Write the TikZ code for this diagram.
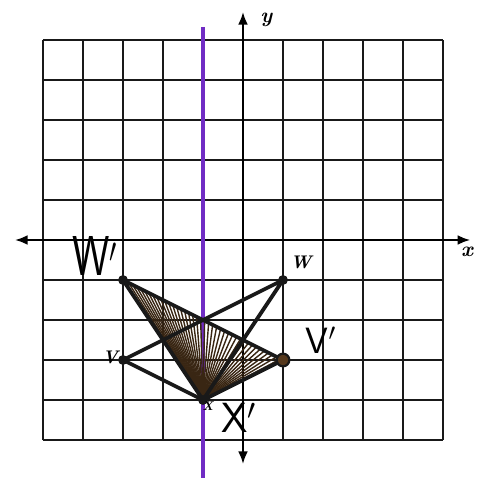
\documentclass[tikz,border=0pt]{standalone}
\usetikzlibrary{calc,arrows.meta}
\begin{document}
\begin{tikzpicture}[x=1cm,y=1cm,
  gridline/.style={line width=2pt,draw=black!90},
  axisline/.style={line width=1.4pt,{Latex[length=9pt,width=7pt]}-{Latex[length=9pt,width=7pt]}},
  mirror/.style={line width=2.8pt,draw={rgb,255:red,112;green,44;blue,196}},
  tri/.style={line width=2.7pt,line join=round,draw=black!90},
  hatch/.style={line width=1pt,draw=black!70!brown},
  dot/.style={circle,fill=black!90,inner sep=0pt,minimum size=7pt},
  odot/.style={circle,draw=black!90,fill=black!55!brown,line width=1.6pt,inner sep=0pt,minimum size=9pt},
  printed/.style={font=\bfseries\itshape\fontsize{13}{13}\selectfont,inner sep=1pt},
  axlabel/.style={font=\bfseries\itshape\fontsize{15}{15}\selectfont,inner sep=1pt},
  hand/.style={font=\sffamily,inner sep=0pt}]
\useasboundingbox (-6.075,-6.075) rectangle (5.85,6.0);
% grid
\draw[gridline] (-5,-5) grid (5,5);
% axes
\coordinate (xl) at (-5.7,0);
\coordinate (xr) at (5.68,0);
\coordinate (yt) at (0,5.7);
\coordinate (yb) at (0,-5.6);
\draw[axisline] (xl) -- (xr);
\draw[axisline] (yb) -- (yt);
\node[axlabel] (ylab) at (0.58,5.5) {y};
\node[axlabel] (xlab) at (5.6,-0.3) {x};
% line of reflection
\coordinate (mt) at (-1,5.33);
\coordinate (mb) at (-1,-5.95);
\draw[mirror] (mt) -- (mb);
% points
\coordinate (V) at (-3,-3);
\coordinate (W) at (1,-1);
\coordinate (X) at (-1,-4);
\coordinate (Wp) at (-3,-1);
\coordinate (Vp) at (1,-3);
% hatching of image triangle
\begin{scope}
  \clip (Wp) -- (Vp) -- (X) -- cycle;
  \foreach \t in {0.01,0.035,...,0.99}
    \draw[hatch] (X) -- ($(Wp)!\t!(Vp)$);
\end{scope}
% triangles
\draw[tri] (V) -- (W) -- (X) -- cycle;
\draw[tri] (Wp) -- (Vp) -- (X) -- cycle;
% vertex dots
\node[dot] (dV) at (V) {};
\node[dot] (dW) at (W) {};
\node[dot] (dX) at (X) {};
\node[dot] (dWp) at (Wp) {};
\node[odot] (dVp) at (Vp) {};
% printed labels
\node[printed] (lW) at (1.45,-0.55) {W};
\node[printed] (lV) at (-3.32,-2.93) {V};
\node[printed,font=\bfseries\itshape\fontsize{9}{9}\selectfont] (lX) at (-0.88,-4.15) {X};
% handwritten labels
\node[hand,font=\sffamily\fontsize{40}{40}\selectfont,xscale=0.75] (hW) at (-3.7,-0.4) {W$'$};
\node[hand,font=\sffamily\fontsize{26}{26}\selectfont] (hV) at (1.95,-2.5) {V$'$};
\node[hand,font=\sffamily\fontsize{30}{30}\selectfont] (hX) at (-0.1,-4.45) {X$'$};
\end{tikzpicture}
\end{document}
